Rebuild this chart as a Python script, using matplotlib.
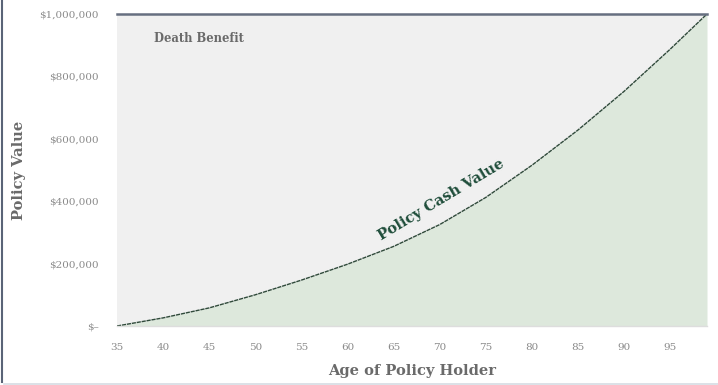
import numpy as np
import matplotlib
matplotlib.use("Agg")
import matplotlib.pyplot as plt
from matplotlib.lines import Line2D

# values
ages = [35, 40, 45, 50, 55, 60, 65, 70, 75, 80, 85, 90, 95, 99]
cash_value = [0, 26000, 58000, 100000, 147000, 198000, 255000, 325000,
              412000, 515000, 628000, 752000, 887000, 1000000]
death_benefit = 1000000
age_ticks = [35, 40, 45, 50, 55, 60, 65, 70, 75, 80, 85, 90, 95]
value_ticks = [0, 200000, 400000, 600000, 800000, 1000000]
value_labels = ["$–", "$200,000", "$400,000", "$600,000", "$800,000", "$1,000,000"]

plt.rcParams['font.family'] = ['DejaVu Serif']

W, H = 718, 385
fig = plt.figure(figsize=(W / 100, H / 100), dpi=100)
ax = fig.add_axes([117 / W, 1 - 326 / H, (707 - 117) / W, (326 - 14) / H])

ax.set_facecolor("#f0f0f0")
ax.fill_between(ages, 0, cash_value, color="#dde8dc", lw=0)
ax.plot(ages, cash_value, color="#2f4a3a", lw=1.0, ls=(0, (3, 0.6)))
ax.axhline(death_benefit, color="#666f80", lw=1.8, clip_on=False)

ax.set_xlim(ages[0], ages[-1])
ax.set_ylim(0, death_benefit)
ax.set_xticks(age_ticks)
ax.set_xticklabels([str(a) for a in age_ticks])
ax.set_yticks(value_ticks)
ax.set_yticklabels(value_labels)
ax.tick_params(length=0, labelsize=7.5, labelcolor="#8a8a8a")
ax.tick_params(axis="y", pad=13)
ax.tick_params(axis="x", pad=12)

for side in ["top", "right", "left"]:
    ax.spines[side].set_visible(False)
ax.spines["bottom"].set_color("#dddddd")
ax.spines["bottom"].set_linewidth(1)

ax.set_xlabel("Age of Policy Holder", fontsize=10.5, fontweight="bold",
              color="#6a6a6a", labelpad=9)
ax.set_ylabel("Policy Value", fontsize=10.5, fontweight="bold",
              color="#6a6a6a", labelpad=10)

ax.text(39, 920000, "Death Benefit", fontsize=8.3, fontweight="bold",
        color="#6a6a6a", ha="left", va="center")
ax.text(70.2, 404000, "Policy Cash Value", fontsize=10.5, fontweight="bold",
        color="#1f4d3a", ha="center", va="center", rotation=31)

# edge of the card: dark on the left, faint along the bottom
fig.add_artist(Line2D([1.5 / W, 1.5 / W], [3 / H, 1], color="#5a6477", lw=1.5,
                      transform=fig.transFigure))
fig.add_artist(Line2D([4 / W, 1], [1.5 / H, 1.5 / H], color="#d6dbe3", lw=1.2,
                      transform=fig.transFigure))

fig.savefig("out.png", dpi=100)
